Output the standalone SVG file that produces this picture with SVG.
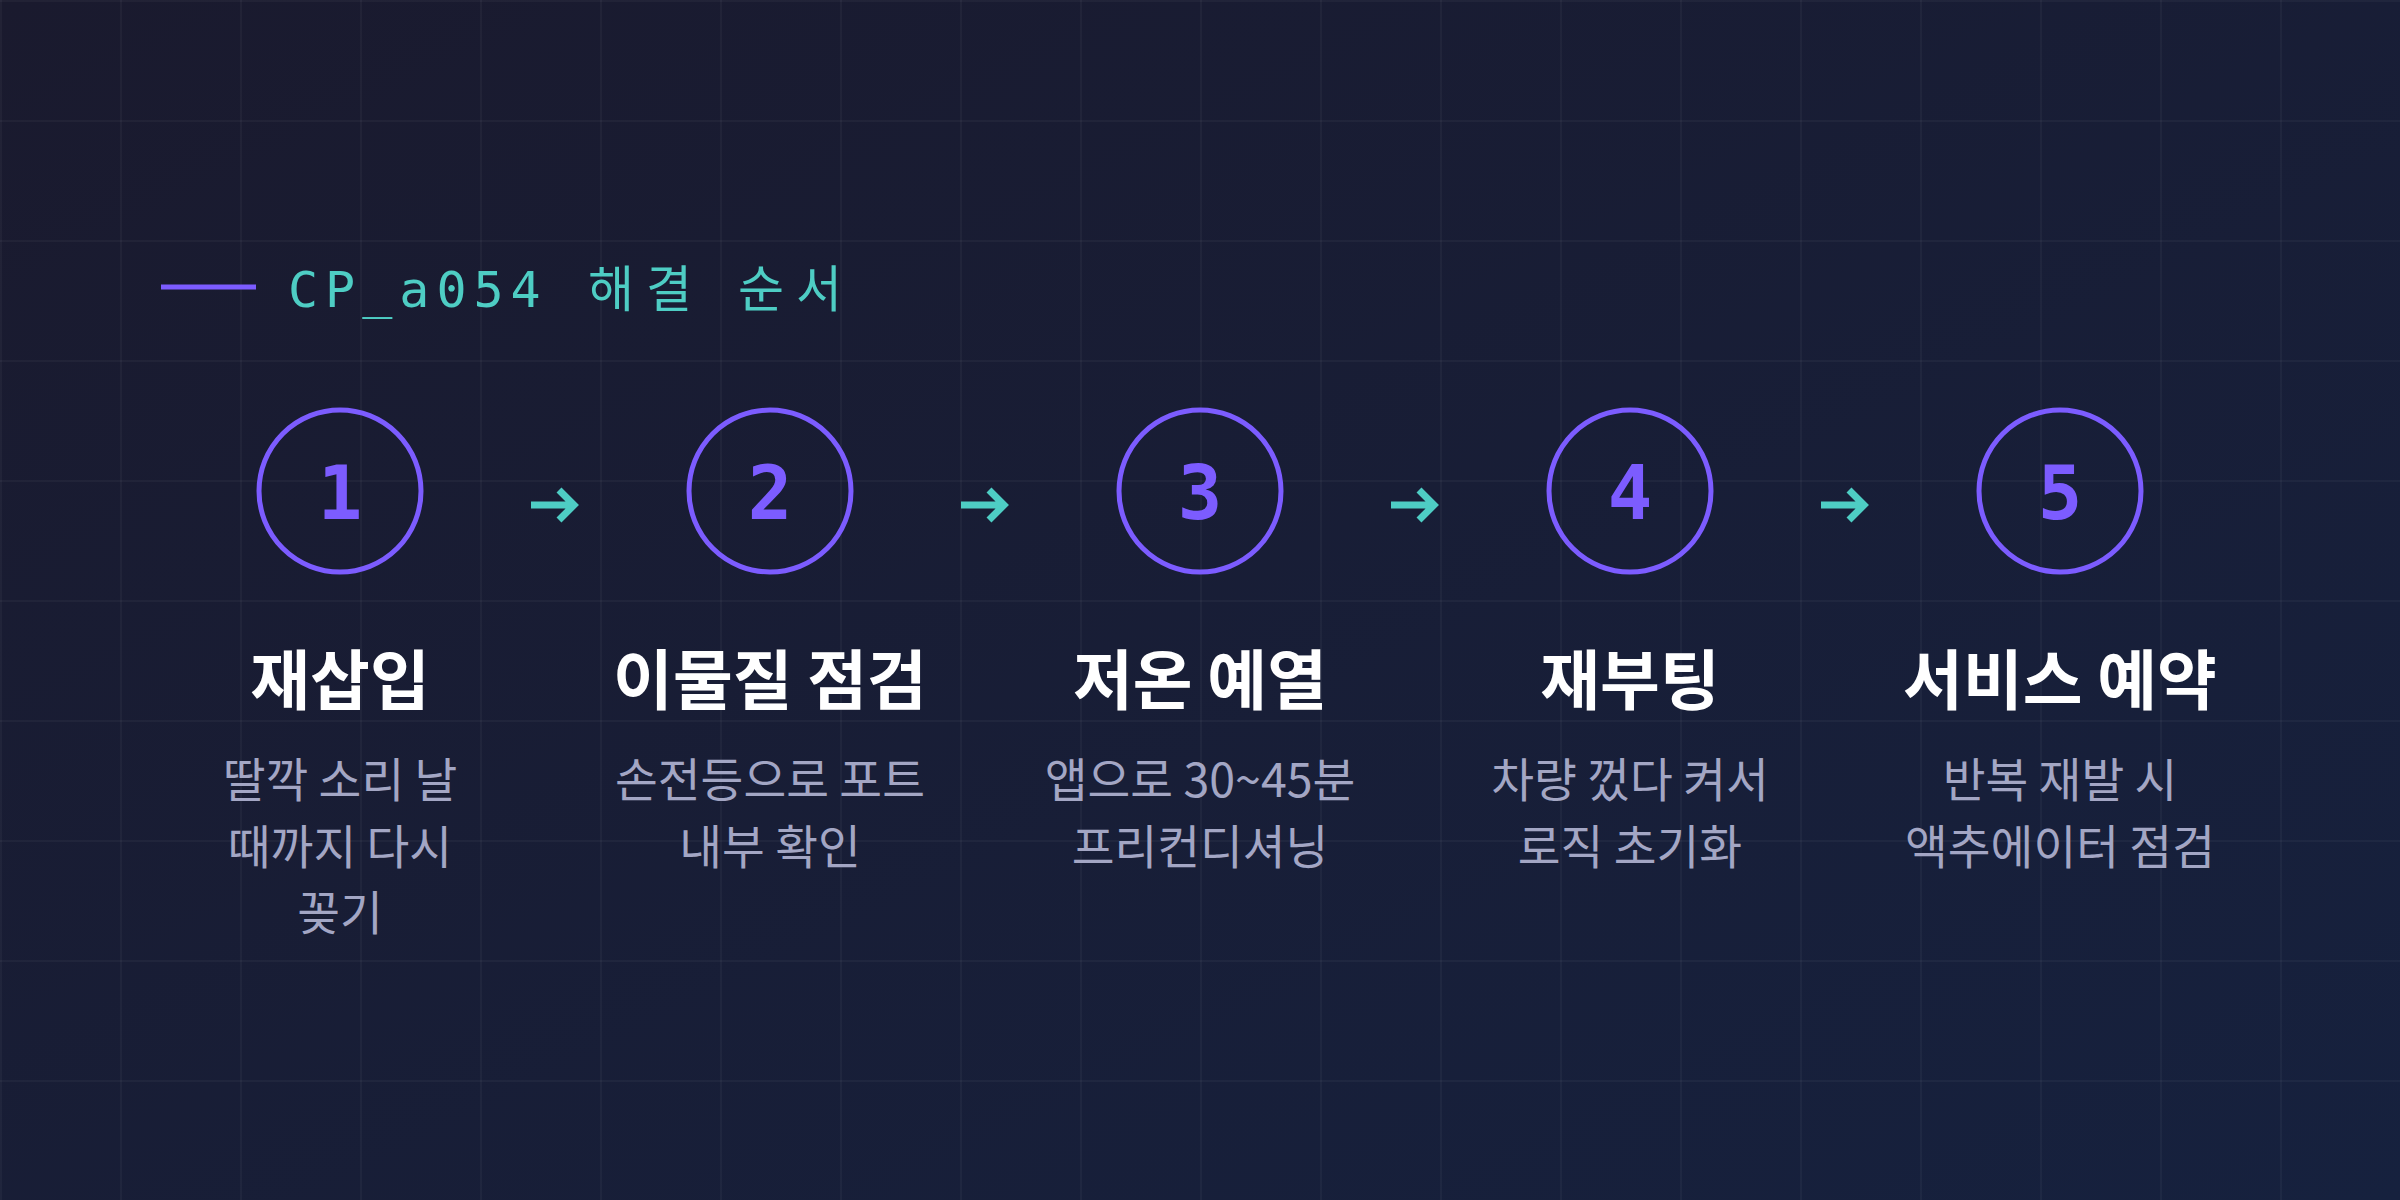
<svg xmlns="http://www.w3.org/2000/svg" width="2400" height="1200" viewBox="0 0 2400 1200">
<defs>
<linearGradient id="bg" x1="0" y1="0" x2="1" y2="1">
<stop offset="0" stop-color="#1a1a2e"/>
<stop offset="1" stop-color="#16213e"/>
</linearGradient>
<pattern id="grid" x="0" y="0" width="120" height="120" patternUnits="userSpaceOnUse">
<rect x="0" y="0" width="2" height="120" fill="#ffffff" fill-opacity="0.035"/>
<rect x="0" y="0" width="120" height="2" fill="#ffffff" fill-opacity="0.035"/>
</pattern>
<style>
.ring{fill:none;stroke:#7c5cff;stroke-width:5}
.num{font-family:"DejaVu Sans Mono","Liberation Mono",monospace;font-weight:bold;font-size:74px;fill:#7c5cff;text-anchor:middle}
.title{font-family:"Noto Sans CJK KR","Noto Sans",sans-serif;font-weight:bold;font-size:65px;fill:#ffffff;text-anchor:middle}
.desc{font-family:"Noto Sans CJK KR","Noto Sans",sans-serif;font-size:46.5px;fill:#a3a6c4;text-anchor:middle}
.head{font-family:"DejaVu Sans Mono","Noto Sans CJK KR",monospace;font-size:50px;letter-spacing:7px;fill:#4ecdc4}
.hk{font-family:"Noto Sans CJK KR",monospace;letter-spacing:12px}
.arrow{fill:none;stroke:#4ecdc4;stroke-width:7;stroke-linejoin:miter;stroke-linecap:butt}
</style>
</defs>
<rect width="2400" height="1200" fill="url(#bg)"/>
<rect width="2400" height="1200" fill="url(#grid)"/>

<g id="header">
<line x1="161" y1="287" x2="256" y2="287" stroke="#7c5cff" stroke-width="5"/>
<text class="head" x="288" y="307">CP_a054<tspan class="hk" x="588">해결</tspan><tspan class="hk" x="738">순서</tspan></text>
</g>

<g id="step1">
<circle class="ring" cx="340" cy="491" r="81"/>
<text class="num" x="340" y="519">1</text>
<text class="title" x="340" y="704">재삽입</text>
<text class="desc" x="340" y="797">딸깍 소리 날</text>
<text class="desc" x="340" y="864">때까지 다시</text>
<text class="desc" x="340" y="930">꽂기</text>
</g>

<g id="step2">
<circle class="ring" cx="770" cy="491" r="81"/>
<text class="num" x="770" y="519">2</text>
<text class="title" x="770" y="704">이물질 점검</text>
<text class="desc" x="770" y="797">손전등으로 포트</text>
<text class="desc" x="770" y="864">내부 확인</text>
</g>

<g id="step3">
<circle class="ring" cx="1200" cy="491" r="81"/>
<text class="num" x="1200" y="519">3</text>
<text class="title" x="1200" y="704">저온 예열</text>
<text class="desc" x="1200" y="797">앱으로 30~45분</text>
<text class="desc" x="1200" y="864">프리컨디셔닝</text>
</g>

<g id="step4">
<circle class="ring" cx="1630" cy="491" r="81"/>
<text class="num" x="1630" y="519">4</text>
<text class="title" x="1630" y="704">재부팅</text>
<text class="desc" x="1630" y="797">차량 껐다 켜서</text>
<text class="desc" x="1630" y="864">로직 초기화</text>
</g>

<g id="step5">
<circle class="ring" cx="2060" cy="491" r="81"/>
<text class="num" x="2060" y="519">5</text>
<text class="title" x="2060" y="704">서비스 예약</text>
<text class="desc" x="2060" y="797">반복 재발 시</text>
<text class="desc" x="2060" y="864">액추에이터 점검</text>
</g>

<g id="connectors">
<path class="arrow" d="M531 505 H573 M559 490 L574 505 L559 520"/>
<path class="arrow" d="M961 505 H1003 M989 490 L1004 505 L989 520"/>
<path class="arrow" d="M1391 505 H1433 M1419 490 L1434 505 L1419 520"/>
<path class="arrow" d="M1821 505 H1863 M1849 490 L1864 505 L1849 520"/>
</g>
</svg>
